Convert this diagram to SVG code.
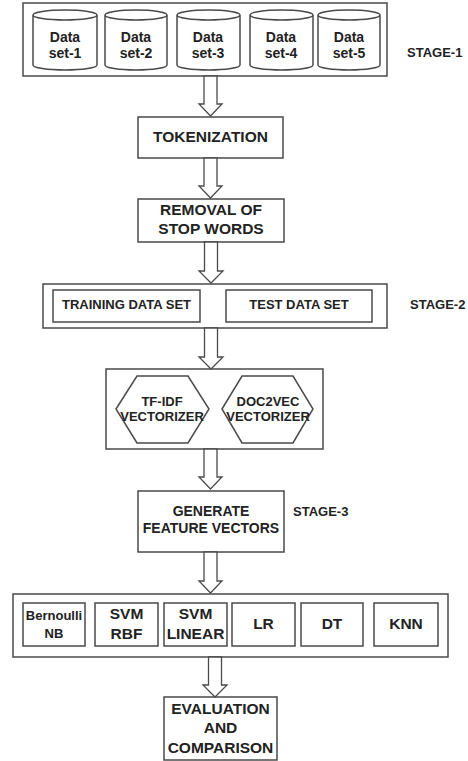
<svg xmlns="http://www.w3.org/2000/svg" width="468" height="761" viewBox="0 0 468 761">
<style>
.box{fill:#fff;stroke:#4a4a4a;stroke-width:1.5}
.arr{fill:#fff;stroke:#4a4a4a;stroke-width:1.3}
text{font-family:"Liberation Sans",Arial,sans-serif;font-weight:bold;fill:#222;text-anchor:middle}
.t15{font-size:15.5px}
.t14{font-size:14px}
.t13{font-size:13px}
.st{font-size:13px;text-anchor:start}
</style>
<rect width="468" height="761" fill="#fff"/>
<g id="stage1">
<rect class="box" x="23" y="3" width="364" height="73"/>
<text class="st" x="407" y="57">STAGE-1</text>
</g>
<g id="ds1"><path class="box" d="M33,15 A32,5 0 0 1 97,15 V65 A32,5 0 0 1 33,65 Z M33,15 A32,5 0 0 0 97,15"/><text class="t14" x="65" y="42">Data</text><text class="t14" x="65" y="58">set-1</text></g>
<g id="ds2"><path class="box" d="M105,15 A31,5 0 0 1 167,15 V65 A31,5 0 0 1 105,65 Z M105,15 A31,5 0 0 0 167,15"/><text class="t14" x="136" y="42">Data</text><text class="t14" x="136" y="58">set-2</text></g>
<g id="ds3"><path class="box" d="M177,15 A31.5,5 0 0 1 240,15 V65 A31.5,5 0 0 1 177,65 Z M177,15 A31.5,5 0 0 0 240,15"/><text class="t14" x="208" y="42">Data</text><text class="t14" x="208" y="58">set-3</text></g>
<g id="ds4"><path class="box" d="M250,15 A31.5,5 0 0 1 313,15 V65 A31.5,5 0 0 1 250,65 Z M250,15 A31.5,5 0 0 0 313,15"/><text class="t14" x="281" y="42">Data</text><text class="t14" x="281" y="58">set-4</text></g>
<g id="ds5"><path class="box" d="M318,15 A31,5 0 0 1 380,15 V65 A31,5 0 0 1 318,65 Z M318,15 A31,5 0 0 0 380,15"/><text class="t14" x="349" y="42">Data</text><text class="t14" x="349" y="58">set-5</text></g>

<g id="tokenization"><rect class="box" x="138" y="117" width="145" height="41"/><text class="t15" x="210.5" y="142">TOKENIZATION</text></g>
<g id="removal"><rect class="box" x="138" y="199" width="146" height="43"/><text class="t15" x="211" y="215">REMOVAL OF</text><text class="t15" x="211" y="234">STOP WORDS</text></g>

<g id="stage2">
<rect class="box" x="43" y="284" width="344" height="44"/>
<text class="st" x="410" y="309">STAGE-2</text>
</g>
<g id="training"><rect class="box" x="53" y="290" width="147" height="32"/><text class="t13" x="126.5" y="309">TRAINING DATA SET</text></g>
<g id="test"><rect class="box" x="226" y="290" width="146" height="32"/><text class="t13" x="299" y="309">TEST DATA SET</text></g>

<g id="vectorizers"><rect class="box" x="106" y="369" width="217" height="80"/></g>
<g id="tfidf"><polygon class="box" points="116,409 137,376 188,376 209,409 188,443 137,443"/><text class="t13" x="162" y="406">TF-IDF</text><text class="t13" x="162" y="421">VECTORIZER</text></g>
<g id="doc2vec"><polygon class="box" points="222,409 242,376 293,376 313,409 293,443 242,443"/><text class="t13" x="268" y="406">DOC2VEC</text><text class="t13" x="268" y="421">VECTORIZER</text></g>

<g id="generate"><rect class="box" x="138" y="491" width="146" height="61"/><text class="t14" x="211" y="516">GENERATE</text><text class="t14" x="211" y="533">FEATURE VECTORS</text><text class="st" x="293" y="516">STAGE-3</text></g>

<g id="classifiers"><rect class="box" x="13" y="594" width="435" height="63"/></g>
<g id="bnb"><rect class="box" x="23" y="603" width="62" height="43"/><text class="t13" x="54" y="620">Bernoulli</text><text class="t13" x="54" y="638">NB</text></g>
<g id="svmrbf"><rect class="box" x="95" y="603" width="63" height="43"/><text class="t15" x="126.5" y="619">SVM</text><text class="t15" x="126.5" y="639">RBF</text></g>
<g id="svmlin"><rect class="box" x="164" y="603" width="63" height="43"/><text class="t15" x="195.5" y="619">SVM</text><text class="t15" x="195.5" y="639">LINEAR</text></g>
<g id="lr"><rect class="box" x="232" y="603" width="63" height="43"/><text class="t15" x="263.5" y="629">LR</text></g>
<g id="dt"><rect class="box" x="301" y="603" width="62" height="43"/><text class="t15" x="332" y="629">DT</text></g>
<g id="knn"><rect class="box" x="374" y="603" width="64" height="43"/><text class="t15" x="406" y="629">KNN</text></g>

<g id="evaluation"><rect class="box" x="164" y="697" width="113" height="63"/><text class="t15" x="220.5" y="714">EVALUATION</text><text class="t15" x="220.5" y="733">AND</text><text class="t15" x="220.5" y="753">COMPARISON</text></g>

<g id="connectors">
<path class="arr" d="M204,76 V104 H199 L210.5,116 L222,104 H217 V76 Z"/>
<path class="arr" d="M204,158 V186 H199 L210.5,198 L222,186 H217 V158 Z"/>
<path class="arr" d="M204.5,242 V271 H199 L211,283 L223,271 H217.5 V242 Z"/>
<path class="arr" d="M204.5,328 V357 H199 L211,369 L223,357 H217.5 V328 Z"/>
<path class="arr" d="M204,449 V477 H199 L210.5,489 L222,477 H217 V449 Z"/>
<path class="arr" d="M204,552 V581 H199 L210.5,593 L222,581 H217 V552 Z"/>
<path class="arr" d="M208.5,657 V685 H203 L215,697 L227,685 H221.5 V657 Z"/>
</g>
</svg>
